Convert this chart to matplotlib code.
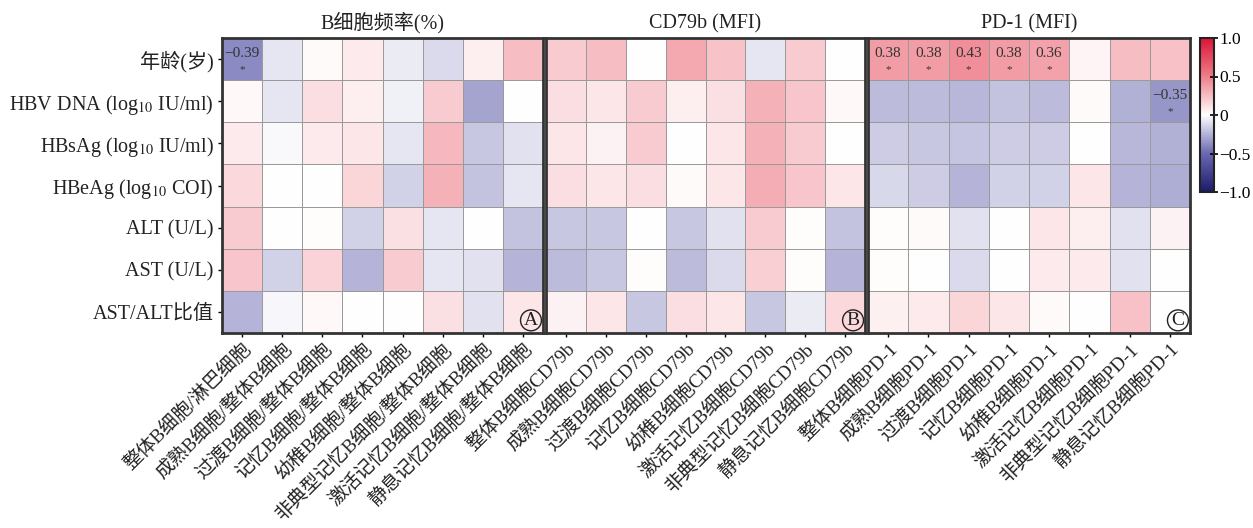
import matplotlib
matplotlib.use("Agg")
import matplotlib.pyplot as plt
import numpy as np
from matplotlib.colors import LinearSegmentedColormap, Normalize
from matplotlib.cm import ScalarMappable

plt.rcParams['font.family'] = ['Liberation Serif', 'Noto Sans CJK SC', 'DejaVu Sans']
plt.rcParams['mathtext.fontset'] = 'stix'
plt.rcParams['axes.unicode_minus'] = True

row_labels = ['年龄(岁)', r'HBV DNA (log$_{10}$ IU/ml)', r'HBsAg (log$_{10}$ IU/ml)',
              r'HBeAg (log$_{10}$ COI)', 'ALT (U/L)', 'AST (U/L)', 'AST/ALT比值']

titles = ['B细胞频率(%)', 'CD79b (MFI)', 'PD-1 (MFI)']
panel_tags = ['A', 'B', 'C']

cols_a = ['整体B细胞/淋巴细胞', '成熟B细胞/整体B细胞', '过渡B细胞/整体B细胞', '记忆B细胞/整体B细胞',
          '幼稚B细胞/整体B细胞', '非典型记忆B细胞/整体B细胞', '激活记忆B细胞/整体B细胞', '静息记忆B细胞/整体B细胞']
cols_b = ['整体B细胞CD79b', '成熟B细胞CD79b', '过渡B细胞CD79b', '记忆B细胞CD79b',
          '幼稚B细胞CD79b', '激活记忆B细胞CD79b', '非典型记忆B细胞CD79b', '静息记忆B细胞CD79b']
cols_c = ['整体B细胞PD-1', '成熟B细胞PD-1', '过渡B细胞PD-1', '记忆B细胞PD-1',
          '幼稚B细胞PD-1', '激活记忆B细胞PD-1', '非典型记忆B细胞PD-1', '静息记忆B细胞PD-1']

# correlation coefficients (rows = clinical indices)
vals_a = [
    [-0.39, -0.08, 0.02, 0.08, -0.07, -0.12, 0.07, 0.25],
    [0.03, -0.08, 0.13, 0.07, -0.05, 0.20, -0.30, 0.00],
    [0.08, -0.02, 0.08, 0.10, -0.08, 0.28, -0.18, -0.10],
    [0.15, 0.00, 0.00, 0.16, -0.15, 0.30, -0.20, -0.08],
    [0.20, 0.00, 0.01, -0.15, 0.12, -0.08, 0.00, -0.20],
    [0.22, -0.15, 0.17, -0.25, 0.20, -0.08, -0.10, -0.25],
    [-0.25, -0.03, 0.03, 0.00, 0.00, 0.12, -0.10, 0.10],
]
vals_b = [
    [0.20, 0.25, 0.00, 0.33, 0.23, -0.08, 0.20, 0.00],
    [0.13, 0.10, 0.20, 0.07, 0.12, 0.30, 0.22, 0.03],
    [0.10, 0.05, 0.20, 0.00, 0.10, 0.30, 0.20, 0.00],
    [0.13, 0.10, 0.13, 0.02, 0.10, 0.32, 0.22, 0.10],
    [-0.18, -0.18, 0.00, -0.18, -0.10, 0.20, 0.01, -0.20],
    [-0.22, -0.18, 0.01, -0.22, -0.12, 0.18, 0.01, -0.25],
    [0.05, 0.10, -0.18, 0.13, 0.10, -0.18, -0.07, 0.15],
]
vals_c = [
    [0.38, 0.38, 0.43, 0.38, 0.36, 0.04, 0.25, 0.24],
    [-0.22, -0.22, -0.24, -0.20, -0.22, 0.02, -0.26, -0.35],
    [-0.17, -0.18, -0.19, -0.17, -0.17, 0.00, -0.24, -0.26],
    [-0.13, -0.17, -0.25, -0.15, -0.15, 0.10, -0.25, -0.27],
    [0.01, 0.02, -0.10, 0.00, 0.10, 0.07, -0.10, 0.05],
    [0.01, 0.00, -0.12, 0.00, 0.08, 0.08, -0.10, 0.00],
    [0.06, 0.08, 0.16, 0.10, 0.02, 0.00, 0.24, 0.00],
]

# significant cells: (row, col) per panel
sig_a = [(0, 0)]
sig_b = []
sig_c = [(0, 0), (0, 1), (0, 2), (0, 3), (0, 4), (1, 7)]

cmap = LinearSegmentedColormap.from_list(
    'corr', [(0.0, '#1b1b6b'), (0.25, '#6a68b0'), (0.5, '#ffffff'),
             (0.75, '#ee7e8a'), (1.0, '#dc1437')])
norm = Normalize(-1, 1)

fig = plt.figure(figsize=(12.53, 5.28), dpi=100)
W, H = 1253, 528
boxes = [(222, 543), (546, 865), (868, 1190)]
top, bottom = 38, 333

panels = [(vals_a, cols_a, sig_a), (vals_b, cols_b, sig_b), (vals_c, cols_c, sig_c)]
for k, ((vals, cols, sig), (x0, x1)) in enumerate(zip(panels, boxes)):
    ax = fig.add_axes([x0 / W, 1 - bottom / H, (x1 - x0) / W, (bottom - top) / H])
    data = np.array(vals)
    ax.pcolormesh(data, cmap=cmap, norm=norm, edgecolors='#9a9a9a', linewidth=0.5)
    ax.set_xlim(0, data.shape[1])
    ax.set_ylim(data.shape[0], 0)
    for s in ax.spines.values():
        s.set_linewidth(2)
        s.set_color('#333333')
    ax.set_xticks(np.arange(data.shape[1]) + 0.5)
    ax.set_xticklabels(cols, rotation=45, ha='right', va='top', rotation_mode='anchor',
                       fontsize=13.8, color='#222222')
    ax.tick_params(axis='x', length=3, width=1, pad=2)
    if k == 0:
        ax.set_yticks(np.arange(data.shape[0]) + 0.5)
        ax.set_yticklabels(row_labels, fontsize=14.5, color='#222222')
        ax.tick_params(axis='y', length=3, width=1, pad=3)
    else:
        ax.set_yticks([])
    ax.set_title(titles[k], fontsize=14.5, pad=7, color='#222222')
    for (i, j) in sig:
        v = data[i, j]
        txt = f'{v:.2f}'.replace('-', '\u2212')
        ax.text(j + 0.5, i + 0.36, txt, ha='center', va='center', fontsize=11, color='#333333')
        ax.text(j + 0.5, i + 0.74, '*', ha='center', va='center', fontsize=8, color='#333333')
    ax.text(data.shape[1] - 0.3, data.shape[0] - 0.3, panel_tags[k], ha='center', va='center',
            fontsize=14, color='#222222',
            bbox=dict(boxstyle='circle,pad=0.1', fc='none', ec='#222222', lw=1))

cax = fig.add_axes([1200 / W, 1 - 192 / H, 14 / W, 154 / H])
cb = fig.colorbar(ScalarMappable(norm=norm, cmap=cmap), cax=cax)
cb.set_ticks([-1, -0.5, 0, 0.5, 1])
cb.set_ticklabels(['\u22121.0', '\u22120.5', '0', '0.5', '1.0'])
cb.ax.tick_params(direction='inout', length=6, width=1.2, labelsize=12.5, pad=1)
cb.outline.set_linewidth(1.5)
cb.outline.set_edgecolor('#222222')

fig.savefig('out.png', dpi=100)
